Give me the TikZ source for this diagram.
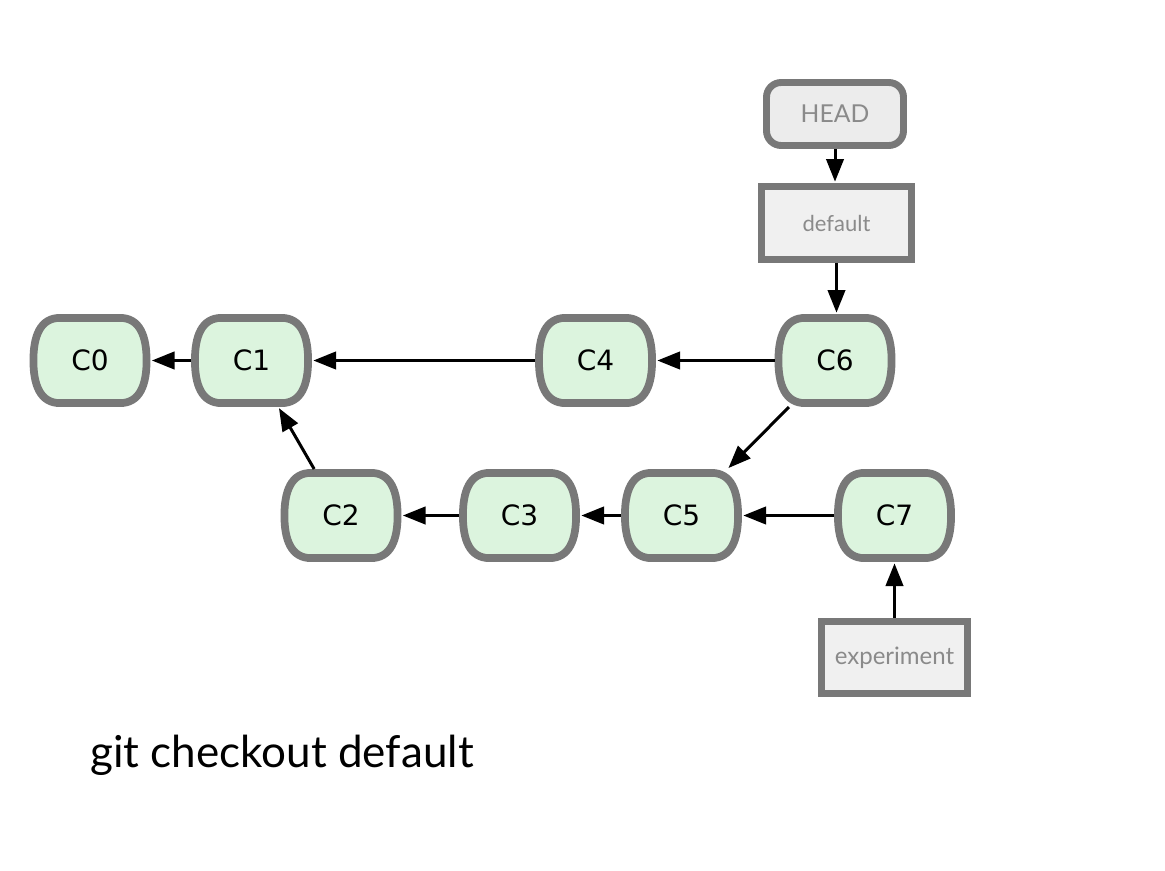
\documentclass[tikz,border=0pt]{standalone}
\usepackage{fontspec}
\setmainfont{DejaVu Sans}
\newfontfamily\labelfont{Lato}
\usetikzlibrary{arrows.meta}
\definecolor{bordergray}{RGB}{120,120,120}
\definecolor{commitfill}{RGB}{220,244,222}
\definecolor{headfill}{RGB}{236,236,236}
\definecolor{branchfill}{RGB}{240,240,240}
\definecolor{labelgray}{RGB}{138,138,138}
\tikzset{
  commitborder/.style={draw=bordergray, fill=commitfill, line width=5.8pt},
  commitnode/.style={rectangle, inner sep=0pt, outer sep=0pt, minimum width=90.75pt, minimum height=69.75pt, font=\fontsize{21}{25}\selectfont},
  headbox/.style={draw=bordergray, fill=headfill, line width=5.2pt, rounded corners=11pt, outer sep=2.6pt, inner sep=0pt, minimum width=102.75pt, minimum height=47.25pt, text=labelgray, font=\labelfont\fontsize{18.5}{22}\selectfont},
  branchbox/.style={draw=bordergray, fill=branchfill, line width=5.2pt, outer sep=2.6pt, inner sep=0pt, text=labelgray, font=\labelfont\fontsize{16.5}{20}\selectfont},
  arr/.style={draw=black, line width=2.25pt, -{Triangle[length=17pt,width=13pt]}, shorten >=1pt},
}
\newcommand\commitat[4]{%
  \draw[commitborder] (#2-30,#3-42.6) -- (#2+30,#3-42.6)
    .. controls (#2+50,#3-42.6) and (#2+56.6,#3-24) .. (#2+56.6,#3)
    .. controls (#2+56.6,#3+24) and (#2+50,#3+42.6) .. (#2+30,#3+42.6)
    -- (#2-30,#3+42.6)
    .. controls (#2-50,#3+42.6) and (#2-56.6,#3+24) .. (#2-56.6,#3)
    .. controls (#2-56.6,#3-24) and (#2-50,#3-42.6) .. cycle;
  \node[commitnode] (#1) at (#2,#3) {#4};}
\begin{document}
\begin{tikzpicture}[x=0.75pt,y=-0.75pt]
\useasboundingbox (0,0) rectangle (1165,871);
\commitat{C0}{90}{360.5}{C0}
\commitat{C1}{251.5}{360.5}{C1}
\commitat{C4}{595.5}{360.5}{C4}
\commitat{C6}{835}{360.5}{C6}
\commitat{C2}{341}{515.5}{C2}
\commitat{C3}{519.5}{515.5}{C3}
\commitat{C5}{681.5}{515.5}{C5}
\commitat{C7}{894.5}{515.5}{C7}
\node[headbox] (HEAD) at (835,114) {HEAD};
\node[branchbox, minimum width=112.5pt, minimum height=54.75pt] (default) at (836.5,223) {default};
\node[branchbox, minimum width=109.5pt, minimum height=54pt, font=\labelfont\fontsize{18}{22}\selectfont] (experiment) at (894.5,657.5) {experiment};
\draw[arr] (C1) -- (C0);
\draw[arr] (C4) -- (C1);
\draw[arr] (C6) -- (C4);
\draw[arr] (C6) -- (C5);
\draw[arr] (C2) -- (C1);
\draw[arr] (C3) -- (C2);
\draw[arr] (C5) -- (C3);
\draw[arr] (C7) -- (C5);
\draw[arr] (experiment) -- (C7);
\draw[arr] (HEAD.south) -- (HEAD.south |- default.north);
\draw[arr] (default.south) -- (default.south |- C6.north);
\node[anchor=base west, inner sep=0pt, font=\labelfont\fontsize{33}{40}\selectfont] (caption) at (90,767) {git checkout default};
\end{tikzpicture}
\end{document}
